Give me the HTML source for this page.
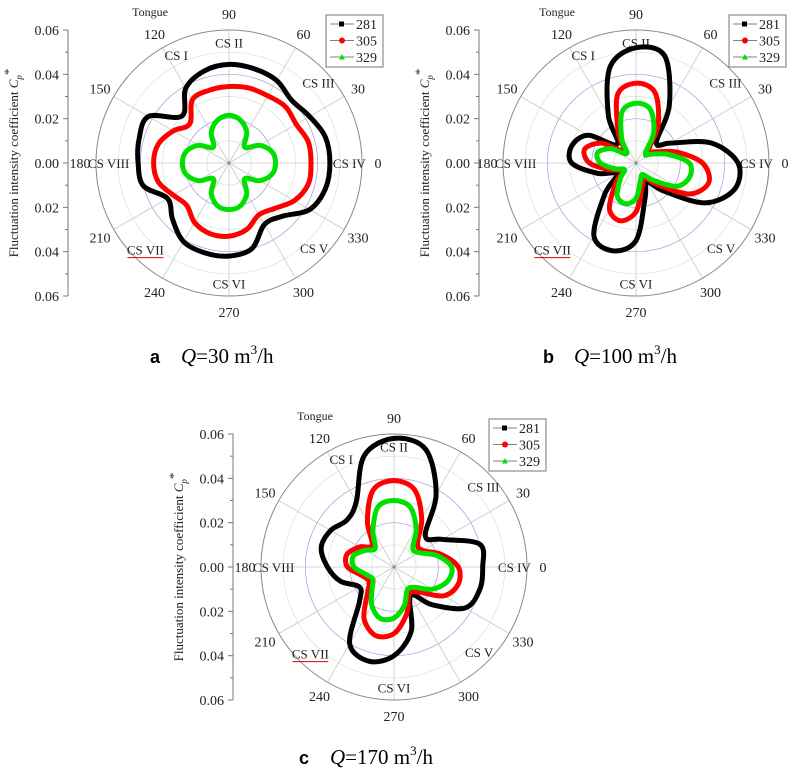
<!DOCTYPE html>
<html><head><meta charset="utf-8">
<style>
html,body{margin:0;padding:0;background:#fff;}
svg{display:block;font-family:"Liberation Serif",serif;}
</style></head>
<body>
<svg id="fig" width="791" height="773" viewBox="0 0 791 773" xmlns="http://www.w3.org/2000/svg">
<g>
<text x="150" y="363" font-family="Liberation Sans,sans-serif" font-weight="bold" font-size="18">a</text>
<text x="181" y="363" font-size="21"><tspan font-style="italic">Q</tspan>=30 m<tspan font-size="13" dy="-9">3</tspan><tspan dy="9">/h</tspan></text>
</g>
<g>
<text x="543" y="363" font-family="Liberation Sans,sans-serif" font-weight="bold" font-size="18">b</text>
<text x="574" y="363" font-size="21"><tspan font-style="italic">Q</tspan>=100 m<tspan font-size="13" dy="-9">3</tspan><tspan dy="9">/h</tspan></text>
</g>
<g>
<text x="299" y="764" font-family="Liberation Sans,sans-serif" font-weight="bold" font-size="18">c</text>
<text x="330" y="764" font-size="21"><tspan font-style="italic">Q</tspan>=170 m<tspan font-size="13" dy="-9">3</tspan><tspan dy="9">/h</tspan></text>
</g>
</svg>
<script>
// Angles (degrees) at which radial values are sampled
const angles = [0,15,30,45,60,75,90,105,120,135,150,165,180,195,210,225,240,255,270,285,300,315,330,345];
const seriesNames = ["281","305","329"];
const seriesColors = ["#000000","#ff0000","#00e000"];
const radialTicks = ["0.06","0.04","0.02","0.00","0.02","0.04","0.06"];
const angleLabels = [0,30,60,90,120,150,180,210,240,270,300,330];
const csLabels = ["CS IV","CS III","CS II","CS I","CS VIII","CS VII","CS VI","CS V"];
const csAngles = [0,42,90,116,180,226,270,315];

// Panel a: Q=30
const a281 = [0.0455,0.045,0.042,0.040,0.043,0.044,0.0445,0.043,0.039,0.030,0.042,0.042,0.041,0.040,0.032,0.036,0.041,0.042,0.042,0.040,0.032,0.034,0.042,0.045];
const a305 = [0.037,0.037,0.035,0.036,0.035,0.035,0.0345,0.034,0.033,0.025,0.029,0.033,0.034,0.033,0.029,0.027,0.031,0.033,0.033,0.031,0.027,0.029,0.034,0.037];
const a329 = [0.021,0.020,0.016,0.010,0.016,0.020,0.0215,0.020,0.016,0.010,0.016,0.020,0.021,0.020,0.016,0.010,0.016,0.020,0.021,0.020,0.016,0.010,0.016,0.020];
// Panel b: Q=100
const b281 = [0.046,0.035,0.018,0.013,0.030,0.050,0.052,0.045,0.025,0.012,0.025,0.030,0.029,0.018,0.010,0.020,0.038,0.041,0.035,0.016,0.010,0.018,0.036,0.046];
const b305 = [0.030,0.019,0.010,0.008,0.020,0.033,0.036,0.032,0.016,0.008,0.018,0.024,0.021,0.012,0.007,0.013,0.024,0.027,0.022,0.011,0.008,0.014,0.028,0.034];
const b329 = [0.024,0.015,0.008,0.006,0.016,0.025,0.027,0.024,0.013,0.006,0.013,0.018,0.016,0.010,0.006,0.010,0.017,0.019,0.016,0.008,0.006,0.011,0.021,0.025];
// Panel c: Q=170
const c281 = [0.040,0.040,0.025,0.020,0.038,0.055,0.058,0.052,0.034,0.030,0.033,0.034,0.030,0.025,0.018,0.022,0.040,0.044,0.040,0.030,0.015,0.024,0.037,0.040];
const c305 = [0.029,0.022,0.015,0.015,0.025,0.036,0.039,0.036,0.024,0.014,0.018,0.022,0.021,0.015,0.013,0.017,0.027,0.032,0.030,0.022,0.014,0.016,0.026,0.030];
const c329 = [0.026,0.020,0.013,0.012,0.020,0.028,0.030,0.028,0.019,0.012,0.015,0.019,0.018,0.013,0.011,0.014,0.020,0.024,0.023,0.018,0.012,0.013,0.020,0.025];

const NS = "http://www.w3.org/2000/svg";
const svg = document.getElementById("fig");
const RMAX = 0.06, RPX = 133;
function mk(tag, attrs, parent){ const e=document.createElementNS(NS,tag); for(const k in attrs) e.setAttribute(k,attrs[k]); parent.appendChild(e); return e; }
function rScale(v){ return v/RMAX*RPX; }
function pt(cx,cy,deg,v){ const r=rScale(v), t=deg*Math.PI/180; return [cx+r*Math.cos(t), cy-r*Math.sin(t)]; }
function closedSpline(pts){
  const n=pts.length; let d="M"+pts[0][0].toFixed(1)+","+pts[0][1].toFixed(1);
  for(let i=0;i<n;i++){
    const p0=pts[(i-1+n)%n],p1=pts[i],p2=pts[(i+1)%n],p3=pts[(i+2)%n];
    const c1=[p1[0]+(p2[0]-p0[0])/6,p1[1]+(p2[1]-p0[1])/6];
    const c2=[p2[0]-(p3[0]-p1[0])/6,p2[1]-(p3[1]-p1[1])/6];
    d+="C"+c1[0].toFixed(1)+","+c1[1].toFixed(1)+" "+c2[0].toFixed(1)+","+c2[1].toFixed(1)+" "+p2[0].toFixed(1)+","+p2[1].toFixed(1);
  }
  return d+"Z";
}

function panel(id, cx, cy, axisX, legX, legY, data){
  const g=mk("g",{},svg);
  
  
  [0.01,0.02,0.03,0.04,0.05].forEach((v,i)=>{
    const c=mk("circle",{cx:cx,cy:cy,r:rScale(v),fill:"none",stroke:(i%2? "#9a9ae0":"#c8ecc8"),"stroke-width":0.7},g);
    
    
  });
  angleLabels.forEach(a=>{
    const p=pt(cx,cy,a,RMAX);
    const l=mk("line",{x1:cx,y1:cy,x2:p[0],y2:p[1],stroke:"#c8c8c8","stroke-width":0.8},g);
    
    
  });
  const oc=mk("circle",{cx:cx,cy:cy,r:RPX,fill:"none",stroke:"#888","stroke-width":1},g);
  
  
  angleLabels.forEach(a=>{
    const p=pt(cx,cy,a,RMAX*1.12);
    const t=mk("text",{x:p[0],y:p[1]+5,"font-size":14,"text-anchor":"middle",fill:"#222"},g);
    t.textContent=String(a);
    
    
  });
  csLabels.forEach((s,i)=>{
    const p=pt(cx,cy,csAngles[i],RMAX*0.905);
    const t=mk("text",{x:p[0],y:p[1]+5,"font-size":13,"text-anchor":"middle",fill:"#222"},g);
    t.textContent=s;
    
    
    if(s==="CS VII"){ const u=mk("line",{x1:p[0]-18,y1:p[1]+8,x2:p[0]+18,y2:p[1]+8,stroke:"#e00000","stroke-width":1},g);
      
       }
  });
  const tg=mk("text",{x:cx-79,y:cy-147,"font-size":12,"text-anchor":"middle",fill:"#222"},g);
  tg.textContent="Tongue";
  
  
  data.forEach((vals,si)=>{
    const pts=angles.map((a,i)=>pt(cx,cy,a,vals[i]));
    const p=mk("path",{d:closedSpline(pts),fill:"none",stroke:seriesColors[si],"stroke-width":5,"stroke-linejoin":"round"},g);
    
    
  });
  const cd=mk("circle",{cx:cx,cy:cy,r:1.5,fill:"#888"},g);
  
  
  const ax=mk("line",{x1:axisX,y1:cy-RPX,x2:axisX,y2:cy+RPX,stroke:"#777","stroke-width":1},g);
  
  
  for(let k=0;k<=12;k++){
    const y=cy-RPX+k*RPX/6;
    const tk=mk("line",{x1:axisX-(k%2?3:5),y1:y,x2:axisX,y2:y,stroke:"#777","stroke-width":1},g);
    
    
  }
  radialTicks.forEach((s,i)=>{
    const y=cy-RPX+i*RPX/3;
    const t=mk("text",{x:axisX-9,y:y+5,"font-size":14,"text-anchor":"end",fill:"#222"},g);
    t.textContent=s;
    
    
  });
  const yt=mk("text",{x:0,y:0,"font-size":13,"text-anchor":"middle",fill:"#222",transform:"translate("+(axisX-50)+","+cy+") rotate(-90)"},g);
  yt.innerHTML='Fluctuation intensity coefficient <tspan font-style="italic">C</tspan><tspan font-size="9" dy="4" font-style="italic">p</tspan><tspan dy="-9">*</tspan>';
  
  
  const lg=mk("g",{},g);
  
  
  const box=mk("rect",{x:legX,y:legY,width:57,height:52,fill:"#fff",stroke:"#555","stroke-width":0.8},lg);
  
  
  seriesNames.forEach((n,i)=>{
    const y=legY+9+i*16.5;
    const e=mk("g",{},lg);
    
    
    mk("line",{x1:legX+4,y1:y,x2:legX+28,y2:y,stroke:"#555","stroke-width":0.7},e);
    if(i===0) mk("rect",{x:legX+13,y:y-2.5,width:5,height:5,fill:seriesColors[i]},e);
    else if(i===1) mk("circle",{cx:legX+16,cy:y,r:3,fill:seriesColors[i]},e);
    else mk("polygon",{points:(legX+16)+","+(y-3)+" "+(legX+19)+","+(y+2.5)+" "+(legX+13)+","+(y+2.5),fill:seriesColors[i]},e);
    const t=mk("text",{x:legX+30,y:y+5,"font-size":14,fill:"#222"},e);
    t.textContent=n;
  });
}
panel("a",229,163,68,326,15,[a281,a305,a329]);
panel("b",636,163,479,729,15,[b281,b305,b329]);
panel("c",394,567,233,489,419,[c281,c305,c329]);
</script>
</body></html>
